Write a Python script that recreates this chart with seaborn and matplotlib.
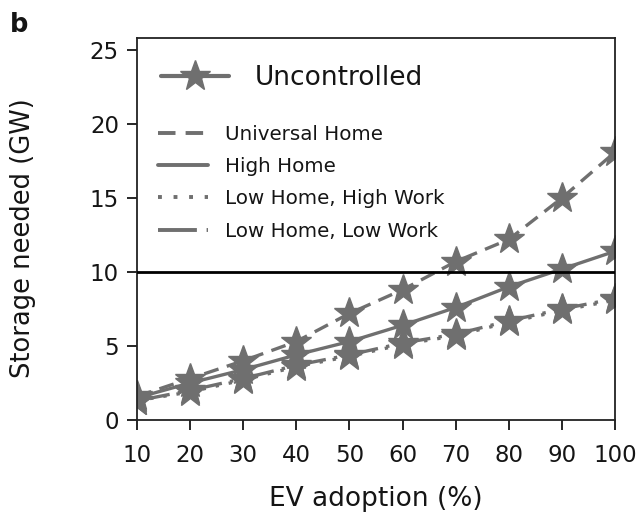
import matplotlib
matplotlib.use("Agg")
import matplotlib.pyplot as plt
from matplotlib.lines import Line2D
import seaborn as sns
import pandas as pd

# EV adoption levels (%) and storage needed (GW) per charging scenario
adoption = [10, 20, 30, 40, 50, 60, 70, 80, 90, 100]
universal_home = [1.6, 2.8, 4.0, 5.3, 7.2, 8.8, 10.7, 12.2, 15.0, 18.1]
high_home = [1.5, 2.5, 3.4, 4.4, 5.3, 6.4, 7.6, 9.0, 10.2, 11.4]
low_home_high_work = [1.3, 1.9, 2.7, 3.6, 4.3, 5.1, 5.7, 6.6, 7.4, 8.1]
low_home_low_work = [1.3, 2.0, 2.8, 3.7, 4.4, 5.2, 5.8, 6.7, 7.5, 8.2]
threshold = 10

scenario_names = ["Universal Home", "High Home", "Low Home, High Work", "Low Home, Low Work"]
scenario_values = [universal_home, high_home, low_home_high_work, low_home_low_work]

sns.set_style("ticks")
plt.rcParams["font.family"] = ["DejaVu Sans"]

GREY = "#6f6f6f"
TEXT = "#151515"
styles = {
    "Universal Home": (0, (4.5, 2.6)),
    "High Home": "solid",
    "Low Home, High Work": (0, (1, 3)),
    "Low Home, Low Work": (0, (10, 2.5, 1, 2.5)),
}

fig = plt.figure(figsize=(6.4, 5.22), dpi=100)
ax = fig.add_axes([0.214, 0.1954, 0.747, 0.7316])

for name, vals in zip(scenario_names, scenario_values):
    df = pd.DataFrame({"adoption": adoption, "storage": vals})
    sns.lineplot(data=df, x="adoption", y="storage", ax=ax, color=GREY,
                 linestyle=styles[name], linewidth=2.4, marker="*",
                 markersize=23, markeredgecolor=GREY, markerfacecolor=GREY,
                 markeredgewidth=1.0, legend=False)

ax.axhline(threshold, color="black", linewidth=2.0, zorder=5)

ax.set_xlim(10, 100)
ax.set_ylim(0, 25.8)
ax.set_xticks(adoption)
ax.set_yticks([0, 5, 10, 15, 20, 25])
ax.tick_params(axis="both", direction="out", length=7, width=1.3,
               labelsize=16.5, colors=TEXT)
ax.tick_params(axis="x", pad=10)
ax.tick_params(axis="y", pad=6)
for sp in ax.spines.values():
    sp.set_linewidth(1.3)
    sp.set_color("#222222")
ax.set_xlabel("EV adoption (%)", fontsize=19, labelpad=14, color=TEXT)
ax.set_ylabel("Storage needed (GW)", fontsize=18.5, color=TEXT)
ax.yaxis.set_label_coords(-0.211, 0.476)

# Legend: the uncontrolled marker on its own, then the line styles
unc = [Line2D([], [], color=GREY, linewidth=3.0, marker="*", markersize=23,
              markeredgecolor=GREY, markerfacecolor=GREY)]
leg1 = ax.legend(unc, ["Uncontrolled"], loc="center left",
                 bbox_to_anchor=(0.05, 0.895), frameon=False, fontsize=19,
                 handlelength=2.6, handletextpad=0.95, borderpad=0,
                 borderaxespad=0, labelcolor=TEXT)
ax.add_artist(leg1)

line_handles = [Line2D([], [], color=GREY, linewidth=2.8, linestyle=styles[n])
                for n in scenario_names]
ax.legend(line_handles, scenario_names, loc="upper left",
          bbox_to_anchor=(0.045, 0.772), frameon=False, fontsize=14.3,
          handlelength=2.5, handletextpad=0.85, labelspacing=0.66,
          borderpad=0, borderaxespad=0, labelcolor=TEXT)

fig.text(0.015, 0.977, "b", fontsize=18.5, fontweight="bold", va="top",
         color=TEXT)

fig.savefig("out.png", dpi=100)
